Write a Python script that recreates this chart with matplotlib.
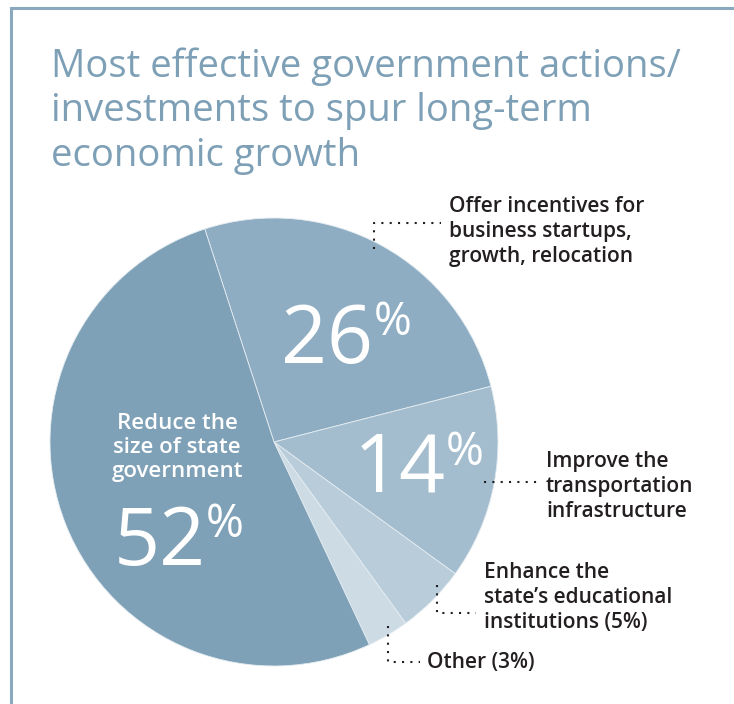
import matplotlib
matplotlib.use('Agg')
from matplotlib import pyplot as plt

title = ['Most effective government actions/',
         'investments to spur long-term',
         'economic growth']
categories = ['Offer incentives for\nbusiness startups,\ngrowth, relocation',
              'Improve the\ntransportation\ninfrastructure',
              "Enhance the\nstate\u2019s educational\ninstitutions",
              'Other',
              'Reduce the\nsize of state\ngovernment']
shares = [26, 14, 5, 3, 52]
colors = ['#8eadc2', '#a4bdce', '#b8ccda', '#cddbe5', '#7fa1b7']

plt.rcParams['font.family'] = ['Open Sans', 'DejaVu Sans']
W, H = 734, 704
fig = plt.figure(figsize=(W / 100, H / 100), dpi=100)
ax = fig.add_axes([0, 0, 1, 1])

def Y(y):
    return H - y

def lines(x, y0, text, step, **kw):
    # one text per line so every baseline sits where we want it
    for i, s in enumerate(text.split('\n')):
        ax.text(x, Y(y0 + i * step), s, va='baseline', **kw)

# pie, clockwise from the 26% slice
ax.pie(shares, colors=colors, startangle=108, counterclock=False,
       center=(274, Y(442)), radius=224,
       wedgeprops=dict(linewidth=0.6, edgecolor='#e4ecf1'))

# pie() resets the limits, so fix them afterwards
ax.set_xlim(0, W)
ax.set_ylim(0, H)
ax.set_aspect('equal')
ax.axis('off')

# frame on the left and top
frame_c = '#8aa9bf'
ax.plot([10.5, 10.5, W], [0, Y(8), Y(8)], color=frame_c, lw=2.2,
        solid_capstyle='butt', solid_joinstyle='miter')

lines(51, 77, '\n'.join(title), 44.5, color='#7ea0b6', fontsize=27.5,
      fontweight='medium', ha='left')

big = dict(color='white', fontsize=58, fontweight='medium')
pct = dict(color='white', fontsize=33, fontweight='medium')

# big numbers inside slices
ax.text(373, Y(363), str(shares[0]), ha='right', va='baseline', **big)
ax.text(374, Y(335), '%', ha='left', va='baseline', **pct)
ax.text(446, Y(492), str(shares[1]), ha='right', va='baseline', **big)
ax.text(446, Y(465), '%', ha='left', va='baseline', **pct)
ax.text(206, Y(565), str(shares[4]), ha='right', va='baseline', **big)
ax.text(206, Y(537), '%', ha='left', va='baseline', **pct)
lines(177, 429, categories[4], 24, color='white', fontsize=16,
      fontweight='semibold', ha='center')

# outside labels with dotted leaders
lab = dict(color='#231f20', fontsize=15, fontweight='semibold', ha='left')
dot = dict(color='#231f20', lw=1.5, ls=(0, (1, 3)))

lines(449, 212, categories[0], 25, **lab)
ax.plot([374, 374, 441], [Y(249), Y(223), Y(223)], **dot)

lines(546, 467, categories[1], 25, **lab)
ax.plot([484, 538], [Y(482), Y(482)], **dot)

lines(484, 578, categories[2] + ' (%d%%)' % shares[2], 25, **lab)
ax.plot([437, 437, 476], [Y(585), Y(613), Y(613)], **dot)

lines(427, 668, categories[3] + ' (%d%%)' % shares[3], 25, **lab)
ax.plot([388, 388, 420], [Y(626), Y(662), Y(662)], **dot)

fig.savefig('out.png', dpi=100)
